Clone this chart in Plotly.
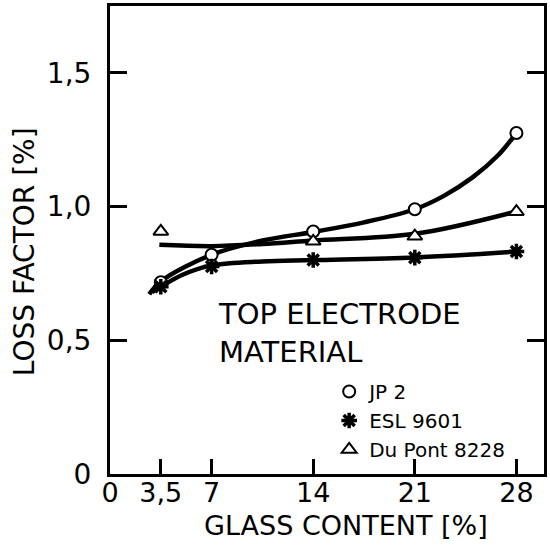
import plotly.graph_objects as go

# measured points
x_pts = [3.5, 7, 14, 21, 28]
jp2 = [0.717, 0.82, 0.907, 0.99, 1.275]
esl = [0.70, 0.776, 0.80, 0.809, 0.832]
dupont_x = [3.5, 14, 21, 28]
dupont = [0.907, 0.87, 0.889, 0.981]

# fitted curves
jp2_cx = [2.7, 3.5, 7, 10.5, 14, 17.5, 21, 23, 25, 26.7, 28]
jp2_cy = [0.672, 0.72, 0.82, 0.873, 0.905, 0.941, 0.99, 1.04, 1.11, 1.19, 1.275]
esl_cx = [2.9, 3.5, 5, 7, 10.5, 14, 21, 28]
esl_cy = [0.68, 0.70, 0.745, 0.78, 0.795, 0.80, 0.81, 0.832]
dup_cx = [3.4, 7, 10.5, 14, 21, 28]
dup_cy = [0.857, 0.852, 0.86, 0.873, 0.898, 0.982]

x_ticks = [0, 3.5, 7, 14, 21, 28]
x_ticktext = ["0", "3,5", "7", "14", "21", "28"]
y_ticks = [0, 0.5, 1.0, 1.5]
y_ticktext = ["0", "0,5", "1,0", "1,5"]

FONT = "DejaVu Sans"

fig = go.Figure()
for cx, cy in [(jp2_cx, jp2_cy), (esl_cx, esl_cy), (dup_cx, dup_cy)]:
    fig.add_trace(go.Scatter(x=cx, y=cy, mode="lines", line=dict(color="black", width=4.5, shape="spline", smoothing=1),
                             showlegend=False, hoverinfo="skip"))

fig.add_trace(go.Scatter(x=x_pts, y=jp2, mode="markers", name="JP 2",
                         marker=dict(symbol="circle", size=12, color="white", line=dict(color="black", width=2))))
fig.add_trace(go.Scatter(x=x_pts, y=esl, mode="markers", name="ESL 9601",
                         marker=dict(symbol="asterisk-open", size=13, color="black", line=dict(color="black", width=3.5))))
fig.add_trace(go.Scatter(x=dupont_x, y=dupont, mode="markers", name="Du Pont 8228",
                         marker=dict(symbol="triangle-up", size=13, color="white", line=dict(color="black", width=2))))

fig.add_annotation(x=7.3, y=0.528, xref="x", yref="y", text="TOP ELECTRODE<br>MATERIAL",
                   showarrow=False, xanchor="left", yanchor="middle", align="left",
                   font=dict(family=FONT, size=29, color="black"))

# axis titles
fig.add_annotation(x=0.544, y=-0.111, xref="paper", yref="paper", text="GLASS CONTENT [%]",
                   showarrow=False, xanchor="center", yanchor="middle",
                   font=dict(family=FONT, size=27, color="black"))
fig.add_annotation(x=-0.197, y=0.475, xref="paper", yref="paper", text="LOSS FACTOR [%]",
                   showarrow=False, xanchor="center", yanchor="middle", textangle=-90,
                   font=dict(family=FONT, size=28, color="black"))

fig.update_layout(
    width=550, height=557,
    margin=dict(l=110, r=3, t=5, b=83),
    paper_bgcolor="white", plot_bgcolor="white",
    font=dict(family=FONT, color="black"),
    legend=dict(x=0.505, y=0.218, xanchor="left", yanchor="top", bgcolor="rgba(0,0,0,0)",
                font=dict(family=FONT, size=20, color="black"), itemwidth=30, tracegroupgap=0),
    xaxis=dict(range=[0, 29.9], tickvals=x_ticks, ticktext=x_ticktext, showgrid=False, zeroline=False,
               showline=True, linecolor="black", linewidth=3, mirror=True,
               ticks="inside", ticklen=15, tickwidth=2.5, tickcolor="black",
               tickfont=dict(family=FONT, size=27, color="black"), ticklabelstandoff=-7),
    yaxis=dict(range=[0, 1.75], tickvals=y_ticks, ticktext=y_ticktext, showgrid=False, zeroline=False,
               showline=True, linecolor="black", linewidth=3, mirror="ticks",
               ticks="inside", ticklen=17, tickwidth=2.5, tickcolor="black",
               tickfont=dict(family=FONT, size=28, color="black"), ticklabelstandoff=10),
)

fig.write_html("out.html")
